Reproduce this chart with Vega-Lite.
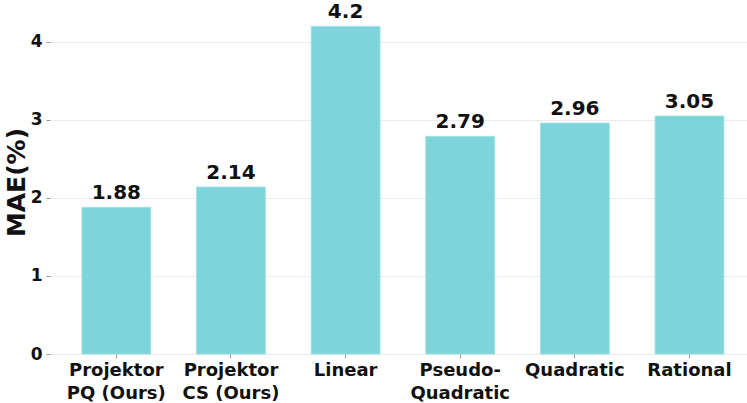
{
  "$schema": "https://vega.github.io/schema/vega-lite/v6.json",
  "autosize": "none",
  "padding": {"left": 50, "top": 10, "right": 0, "bottom": 49},
  "width": 697,
  "height": 344,
  "background": "white",
  "config": {
    "view": {"stroke": null},
    "font": "DejaVu Sans"
  },
  "data": {
    "values": [
      {"method": "Projektor\nPQ (Ours)", "mae": 1.88},
      {"method": "Projektor\nCS (Ours)", "mae": 2.14},
      {"method": "Linear", "mae": 4.2},
      {"method": "Pseudo-\nQuadratic", "mae": 2.79},
      {"method": "Quadratic", "mae": 2.96},
      {"method": "Rational", "mae": 3.05}
    ]
  },
  "encoding": {
    "x": {
      "field": "method",
      "type": "nominal",
      "sort": null,
      "scale": {"paddingInner": 0.4, "paddingOuter": 0.24, "align": 0.58},
      "axis": {
        "title": null,
        "labelAngle": 0,
        "labelExpr": "split(datum.label, '\\n')",
        "labelFont": "DejaVu Sans",
        "labelFontWeight": "bold",
        "labelFontSize": 18,
        "labelColor": "#111111",
        "labelLineHeight": 23,
        "labelPadding": 3,
        "labelBaseline": "top",
        "domain": false,
        "ticks": true,
        "tickColor": "#999999",
        "tickSize": 4,
        "grid": false
      }
    },
    "y": {
      "field": "mae",
      "type": "quantitative",
      "scale": {"domain": [0, 4.41], "nice": false},
      "axis": {
        "title": "MAE(%)",
        "titleFont": "DejaVu Sans",
        "titleFontWeight": "bold",
        "titleFontSize": 25,
        "titleColor": "#111111",
        "titlePadding": 1,
        "values": [0, 1, 2, 3, 4],
        "labelFont": "DejaVu Sans",
        "labelFontWeight": "bold",
        "labelFontSize": 17,
        "labelColor": "#111111",
        "labelPadding": 4,
        "domain": false,
        "ticks": true,
        "tickColor": "#999999",
        "tickSize": 4,
        "grid": true,
        "gridColor": "#ebebeb",
        "gridWidth": 1
      }
    }
  },
  "layer": [
    {
      "mark": {"type": "bar", "color": "#7dd4da", "stroke": "#9fe0e4", "strokeWidth": 1}
    },
    {
      "mark": {"type": "text", "baseline": "bottom", "dy": -4, "font": "DejaVu Sans", "fontWeight": "bold", "fontSize": 20, "color": "#111111"},
      "encoding": {
        "text": {"field": "mae", "type": "quantitative"}
      }
    }
  ]
}
